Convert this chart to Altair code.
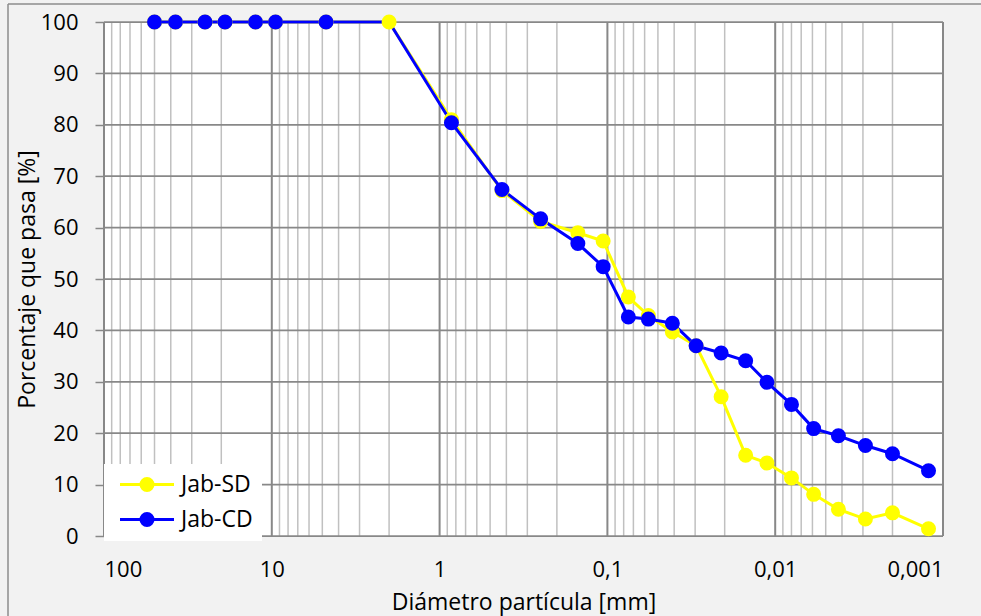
import altair as alt
import pandas as pd

# Grain-size distribution (sieve + hydrometer), diameters in mm
diametro = [50, 37.5, 25, 19, 12.5, 9.5, 4.75, 2.0, 0.85, 0.425, 0.25, 0.15, 0.106,
            0.075, 0.057, 0.041, 0.0296, 0.021, 0.015, 0.0112, 0.008, 0.0059,
            0.0042, 0.0029, 0.002, 0.00122]
jab_sd = [100, 100, 100, 100, 100, 100, 100, 100, 81.0, 67.2, 61.2, 59.0, 57.4,
          46.5, 42.9, 39.7, 37.0, 27.1, 15.7, 14.2, 11.3, 8.1, 5.2, 3.3, 4.5, 1.4]
jab_cd = [100, 100, 100, 100, 100, 100, 100, 100, 80.4, 67.4, 61.7, 56.9, 52.4,
          42.6, 42.2, 41.4, 37.0, 35.6, 34.1, 29.9, 25.6, 20.9, 19.5, 17.6, 16.0, 12.7]
series = ["Jab-SD", "Jab-CD"]
colores = ["#ffff00", "#0000ff"]

decadas = [100, 10, 1, 0.1, 0.01, 0.001]
menores = [k * 10.0 ** e for e in range(-3, 2) for k in range(2, 10)]
niveles = list(range(0, 101, 10))

FONT = "Open Sans"
GRID_DARK = "#888888"
GRID_LIGHT = "#c0c0c0"

n = len(diametro)
df = pd.DataFrame({
    "d": diametro * 2,
    "p": jab_sd + jab_cd,
    "serie": ["Jab-SD"] * n + ["Jab-CD"] * n,
    "orden": list(range(n)) * 2,
})
# the CD marker at 2 mm is left off so the SD marker stays visible there
df["marcador"] = ~((df["serie"] == "Jab-CD") & (df["d"] == 2.0))

x_enc = alt.X(
    "d:Q",
    scale=alt.Scale(type="log", domain=[0.001, 100], reverse=True, nice=False),
    axis=alt.Axis(
        values=decadas, grid=False, domain=False, ticks=False, labelOverlap=False,
        labelExpr="replace(format(datum.value, '~g'), '.', ',')",
        labelFont=FONT, labelFontSize=22, labelColor="#000000", labelPadding=23,
        title="Diámetro partícula [mm]", titleFont=FONT, titleFontSize=23,
        titleFontWeight="normal", titleColor="#000000", titlePadding=11,
    ),
)
y_enc = alt.Y(
    "p:Q",
    scale=alt.Scale(domain=[0, 100], nice=False),
    axis=alt.Axis(
        values=niveles, grid=False, domain=False, ticks=True, tickSize=9,
        tickColor=GRID_DARK, tickWidth=1.5, labelOverlap=False,
        labelFont=FONT, labelFontSize=22, labelColor="#000000", labelPadding=17,
        title="Porcentaje que pasa [%]", titleFont=FONT, titleFontSize=23,
        titleFontWeight="normal", titleColor="#000000", titlePadding=1,
    ),
)

color_scale = alt.Scale(domain=series, range=colores)
# legend glyph: a line segment with a dot in its middle (units of 7.5 px)
glifo = ("M-0.6,0L6.6,0"
         "M2.2,0A0.8,0.8,0,1,1,3.8,0A0.8,0.8,0,1,1,2.2,0Z")
leyenda = alt.Legend(
    title=None, orient="none", legendX=0, legendY=442,
    symbolType=glifo, symbolSize=225, symbolStrokeWidth=3, symbolOpacity=1,
    labelFont=FONT, labelFontSize=23, labelColor="#000000", labelOffset=45,
    fillColor="#ffffff", padding=9, rowPadding=10,
)

menores_df = pd.DataFrame({"d": menores})
decadas_df = pd.DataFrame({"d": decadas})
niveles_df = pd.DataFrame({"p": niveles})
marco_df = pd.DataFrame({"k": [0]})

grid_menor = alt.Chart(menores_df).mark_rule(color=GRID_LIGHT, strokeWidth=1.5).encode(x=x_enc)
grid_mayor = alt.Chart(decadas_df).mark_rule(color=GRID_DARK, strokeWidth=2).encode(x=x_enc)
grid_horiz = alt.Chart(niveles_df).mark_rule(color=GRID_DARK, strokeWidth=1.75).encode(y=y_enc)

lineas = alt.Chart(df).mark_line(strokeWidth=3).encode(
    x=x_enc, y=y_enc,
    stroke=alt.Stroke("serie:N", scale=color_scale, legend=leyenda),
    detail="serie:N",
    order="orden:Q",
)
puntos = alt.Chart(df).transform_filter("datum.marcador").mark_point(
    filled=True, size=144, strokeWidth=3, opacity=1
).encode(
    x=x_enc, y=y_enc,
    fill=alt.Fill("serie:N", scale=color_scale, legend=leyenda),
    stroke=alt.Stroke("serie:N", scale=color_scale, legend=leyenda),
    order=alt.Order("serie:N", sort="descending"),
)

# outer frame of the chart
marco_izq = alt.Chart(marco_df).mark_rule(color="#8c8c8c", strokeWidth=1.5).encode(
    x=alt.value(-96), y=alt.value(-18), y2=alt.value(594)
)
marco_sup = alt.Chart(marco_df).mark_rule(color="#8c8c8c", strokeWidth=1.5).encode(
    x=alt.value(-96), x2=alt.value(877), y=alt.value(-18)
)

chart = alt.layer(
    grid_menor, grid_mayor, grid_horiz, lineas, puntos, marco_izq, marco_sup
).properties(
    width=839, height=514,
    autosize=alt.AutoSizeParams(type="none"),
    padding={"left": 104, "top": 22, "right": 38, "bottom": 80},
    background="#f2f2f2",
).configure_view(
    fill="#ffffff", stroke=None
)

chart.save("out.html", embed_options={"renderer": "svg", "actions": False})
